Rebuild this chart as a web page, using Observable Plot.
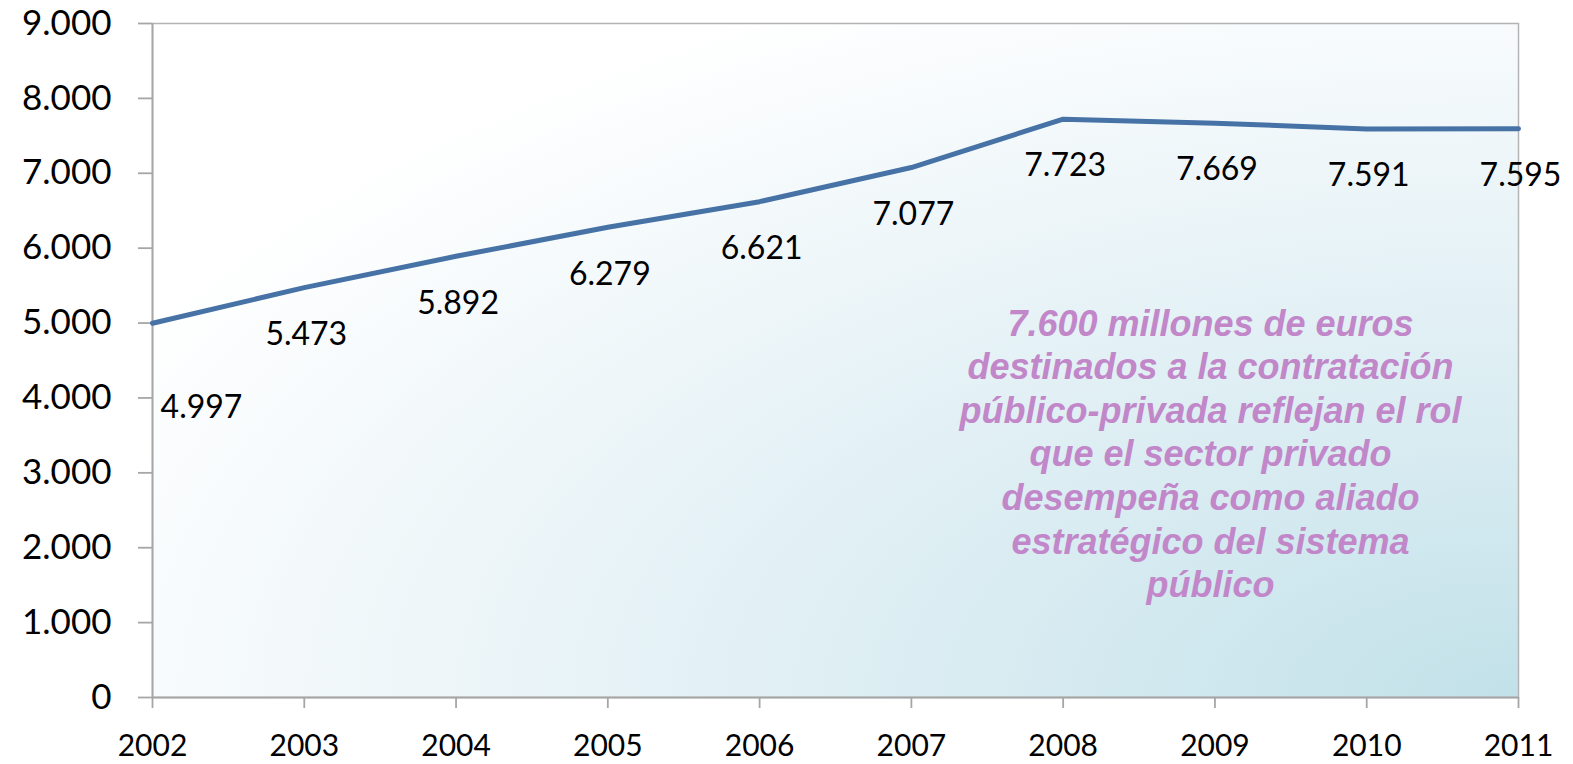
<!DOCTYPE html>
<html>
<head>
<meta charset="utf-8">
<script src="https://cdn.jsdelivr.net/npm/d3@7"></script>
<script src="https://cdn.jsdelivr.net/npm/@observablehq/plot@0.6"></script>
<style>
  html, body { margin: 0; padding: 0; background: #ffffff; }
  #chart svg { display: block; }
</style>
</head>
<body>
<div id="chart"></div>
<script>
const years = [2002, 2003, 2004, 2005, 2006, 2007, 2008, 2009, 2010, 2011];
const values = [4997, 5473, 5892, 6279, 6621, 7077, 7723, 7669, 7591, 7595];
const yTicks = [0, 1000, 2000, 3000, 4000, 5000, 6000, 7000, 8000, 9000];
const annotation = "7.600 millones de euros\ndestinados a la contratación\npúblico-privada reflejan el rol\nque el sector privado\ndesempeña como aliado\nestratégico del sistema\npúblico";

const data = years.map((y, i) => ({year: y, value: values[i]}));
const locale = d3.formatLocale({decimal: ",", thousands: ".", grouping: [3], currency: ["", "€"]});
const fmt = locale.format(",d");

const plot = Plot.plot({
  width: 1573,
  height: 764,
  marginLeft: 152,
  marginRight: 55,
  marginTop: 23,
  marginBottom: 67,
  style: {fontFamily: "Lato, 'Open Sans', sans-serif", background: "#ffffff", color: "#000"},
  x: {domain: [2002, 2011], ticks: years, tickFormat: d => String(d)},
  y: {domain: [0, 9000], ticks: yTicks, tickFormat: fmt},
  marks: [
    Plot.frame({fill: "url(#bg)", stroke: "#b4b4b4", strokeWidth: 1.5}),
    Plot.axisY({ticks: yTicks, tickFormat: fmt, tickSize: 14, tickPadding: 27, fontSize: 35, stroke: "#a6a6a6", strokeWidth: 1.8, label: null}),
    Plot.axisX({ticks: years, tickFormat: d => String(d), tickSize: 11, tickPadding: 26, fontSize: 30, stroke: "#a6a6a6", strokeWidth: 1.8, label: null}),
    Plot.ruleX([2002], {stroke: "#a6a6a6", strokeWidth: 1.8}),
    Plot.ruleY([0], {stroke: "#a6a6a6", strokeWidth: 1.8}),
    Plot.line(data, {x: "year", y: "value", stroke: "#4672a6", strokeWidth: 5}),
    Plot.text(data.slice(0, 1), {x: "year", y: "value", text: d => fmt(d.value), fontSize: 32, dx: 49, dy: 84, lineAnchor: "middle", fill: "#000"}),
    Plot.text(data.slice(1), {x: "year", y: "value", text: d => fmt(d.value), fontSize: 32, dx: 2, dy: 47, lineAnchor: "middle", fill: "#000"}),
    Plot.text([annotation], {frameAnchor: "middle", dx: 375, dy: 92, text: d => d, fontSize: 36, lineHeight: 1.21, fontWeight: "bold", fontStyle: "italic", fontFamily: "'Liberation Sans', Arial, sans-serif", fill: "#c187c9", textAnchor: "middle", lineAnchor: "middle"})
  ]
});

d3.select(plot).insert("defs", ":first-child").html(`
  <radialGradient id="bg" cx="1" cy="1" r="1.15" fx="1" fy="1">
    <stop offset="0" stop-color="#c2e1e9"/>
    <stop offset="0.35" stop-color="#d9ecf2"/>
    <stop offset="0.7" stop-color="#eef6f9"/>
    <stop offset="1" stop-color="#ffffff"/>
  </radialGradient>`);

document.getElementById("chart").appendChild(plot);
</script>
</body>
</html>
